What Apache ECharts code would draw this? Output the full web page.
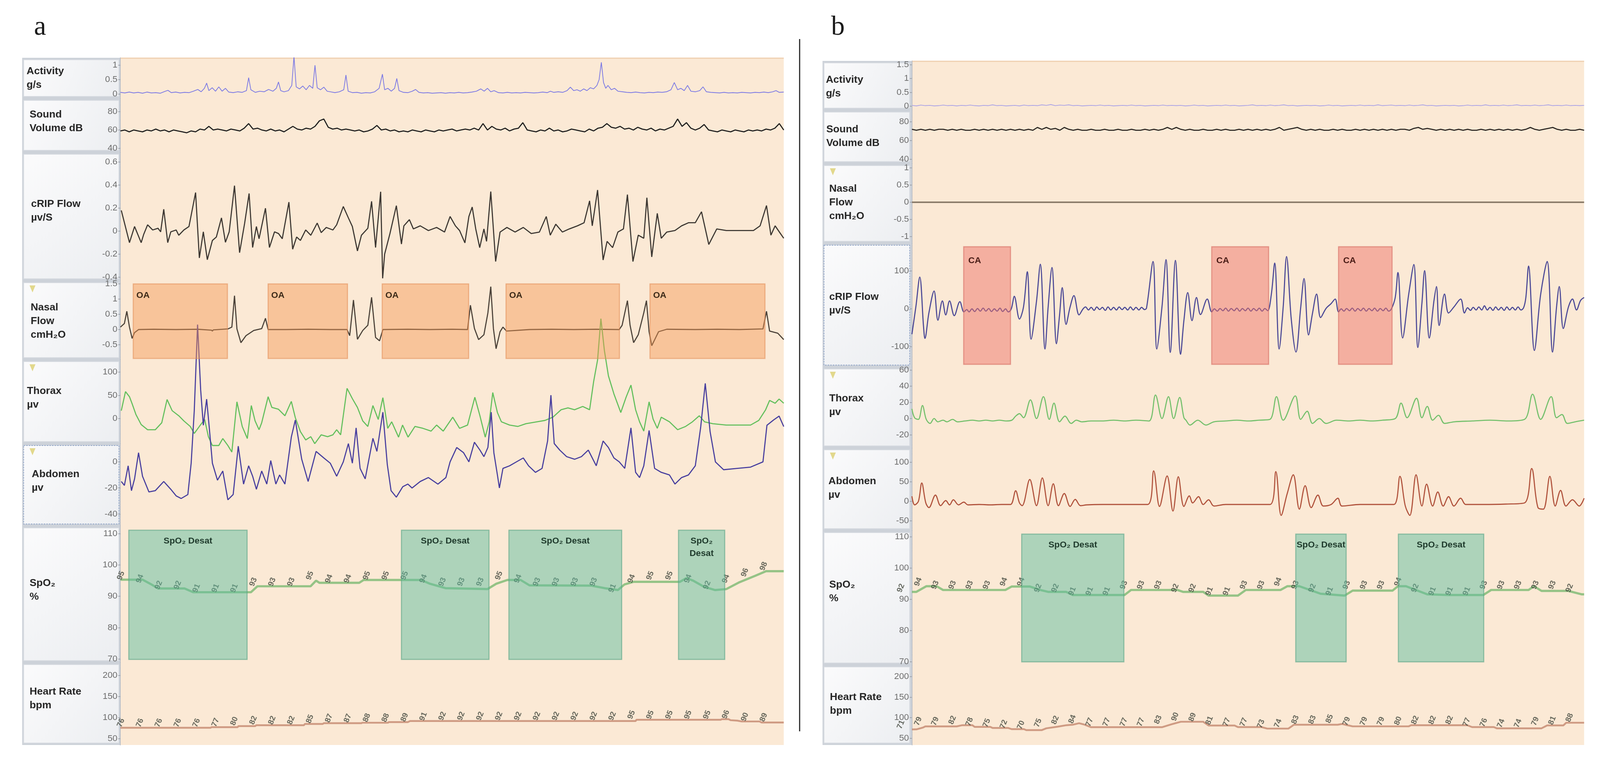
<!DOCTYPE html>
<html>
<head>
<meta charset="utf-8">
<script src="https://cdn.jsdelivr.net/npm/echarts@6/dist/echarts.min.js"></script>
<style>
html, body { margin: 0; padding: 0; background: #ffffff; overflow: hidden; }
#chart { width: 4332px; height: 1949px; }
</style>
</head>
<body>
<div id="chart"></div>
<script>
// ---------- datos (tiempo en s, 0-300) ----------

// panel a
var activityA = [[0,0.06],[2,0.04],[4,0.07],[6,0.04],[8,0.06],[10,0.03],[12,0.07],[14,0.04],[16,0.05],[18,0.03],[20,0.09],[21.5,0.13],[23,0.05],[25,0.07],[27,0.04],[29,0.06],[31,0.05],[33,0.1],[35,0.16],[36.5,0.08],[38,0.2],[39,0.38],[40,0.12],[41.5,0.22],[43,0.1],[44.5,0.25],[46,0.1],[47.5,0.2],[49,0.07],[51,0.05],[53,0.08],[55,0.06],[57,0.12],[58,0.57],[59,0.15],[61,0.06],[63,0.1],[65,0.08],[67,0.16],[69,0.1],[70.5,0.2],[71.5,0.42],[72.5,0.12],[74,0.08],[76,0.12],[77.5,0.3],[78.5,1.3],[79.5,0.25],[81,0.18],[82.5,0.28],[84,0.15],[85.5,0.3],[87,0.2],[88,1.0],[89,0.22],[90.5,0.15],[92,0.24],[93.5,0.1],[95,0.08],[97,0.05],[99,0.08],[101,0.15],[102,0.66],[103,0.1],[105,0.05],[107,0.06],[109,0.03],[111,0.05],[113,0.04],[115,0.08],[117,0.2],[118.5,0.69],[119.5,0.15],[121,0.2],[122.5,0.1],[124,0.2],[125,0.54],[126,0.12],[128,0.06],[130,0.05],[132,0.1],[133.5,0.16],[135,0.06],[137,0.04],[139,0.05],[141,0.03],[143,0.04],[145,0.05],[147,0.03],[149,0.05],[151,0.04],[153,0.06],[155,0.04],[157,0.05],[159,0.07],[161,0.1],[163,0.18],[164.5,0.1],[166,0.2],[167.5,0.08],[169,0.12],[171,0.05],[173,0.04],[175,0.06],[177,0.04],[179,0.05],[181,0.04],[183,0.06],[185,0.05],[187,0.04],[189,0.05],[191,0.07],[193,0.05],[194.5,0.1],[196,0.06],[198,0.08],[200,0.06],[202,0.12],[203.5,0.24],[205,0.12],[206.5,0.15],[208,0.1],[209.5,0.18],[211,0.12],[212.5,0.22],[214,0.18],[215.5,0.3],[216.5,0.5],[217.5,1.1],[218.5,0.4],[219.5,0.2],[220.5,0.3],[222,0.15],[223.5,0.2],[225,0.1],[227,0.08],[229,0.06],[231,0.05],[233,0.07],[235,0.05],[237,0.04],[239,0.06],[241,0.05],[243,0.07],[245,0.06],[247,0.08],[249,0.15],[250.5,0.4],[252,0.15],[253.5,0.2],[255,0.12],[256.5,0.3],[258,0.1],[260,0.08],[262,0.12],[263.5,0.25],[265,0.08],[267,0.06],[269,0.05],[271,0.04],[273,0.06],[275,0.04],[277,0.05],[279,0.04],[281,0.06],[283,0.05],[285,0.04],[287,0.06],[289,0.05],[291,0.07],[293,0.05],[295,0.08],[296.5,0.12],[298,0.06],[300,0.07]];

var sampleStep = 2; // s entre muestras de sonido / actividad b
var soundA = [
  59,60,58,60,59,58,60,59,61,59,
  60,58,60,59,58,57,59,58,61,60,
  64,60,61,60,59,61,60,59,62,67,
  61,62,60,59,61,59,60,58,61,64,
  61,60,62,61,64,70,72,63,61,62,
  60,61,60,59,60,58,59,61,65,60,
  61,59,60,58,59,58,60,59,58,60,
  59,58,60,59,60,61,59,60,61,60,
  62,60,67,60,64,61,60,62,59,61,
  62,68,60,59,58,60,59,62,59,60,
  58,59,61,60,59,58,61,59,62,63,
  67,63,62,64,61,62,60,63,61,60,
  62,59,61,60,62,64,72,64,68,62,
  60,62,66,60,59,58,60,59,58,60,
  59,58,60,59,60,59,61,60,62,67,
  60];

var cripA = [[0.4,0.18],[4.1,-0.1],[6.4,0.04],[9.4,-0.1],[10.5,-0.03],[12.3,0.055],[14.6,0.01],[17,0.025],[18.2,-0.006],[19.6,0.19],[21.4,-0.1],[22.8,-0.006],[25.2,0.01],[26.4,-0.036],[28.7,0.01],[31,0.04],[34,0.335],[35.7,-0.233],[37.5,-0.006],[39.3,-0.248],[41.6,-0.081],[43.4,-0.051],[45.7,0.115],[47.5,-0.097],[49.2,-0.006],[51.6,0.395],[53.9,-0.187],[56.2,0.07],[58.2,0.327],[59.8,-0.142],[61.5,0.04],[62.7,-0.066],[65.6,0.199],[67.4,-0.142],[69.7,-0.006],[71.5,-0.021],[73.2,-0.066],[76.2,0.252],[77.9,-0.157],[79.7,-0.051],[81.4,-0.081],[83.8,0.01],[86.1,-0.036],[89,0.07],[90.8,-0.013],[93.1,0.032],[96.1,0.01],[97.8,0.055],[100.8,0.214],[103.1,0.115],[104.9,0.04],[107.2,-0.172],[109,-0.036],[111.9,0.025],[113.6,0.259],[115.4,-0.142],[117.7,0.342],[118.6,-0.41],[119.5,-0.2],[121.9,-0.021],[124.8,0.221],[127.1,-0.112],[128.2,0.046],[130.7,0.1],[132.5,0.019],[135.6,0.046],[139.3,0.005],[143,0.032],[146.6,-0.008],[149.1,0.127],[151.5,0.046],[153.4,0.005],[155.8,-0.102],[157.6,0.127],[159.1,0.209],[160.7,0.019],[162.5,-0.143],[164.4,0.019],[165.6,-0.089],[167.5,0.344],[169.7,-0.264],[171.7,-0.008],[174.8,0.032],[178.5,-0.008],[182.2,0.032],[185.8,-0.021],[189.5,-0.008],[192.6,0.127],[194.4,-0.035],[196.9,0.06],[199.9,-0.008],[203,0.019],[206.7,0.046],[209.7,0.073],[212.2,0.263],[213.4,0.046],[215.8,0.357],[218.3,-0.251],[220.1,-0.089],[222.6,-0.143],[225,-0.008],[227.5,0.019],[229.3,0.317],[231.8,-0.264],[234.2,-0.035],[236.7,-0.062],[238.1,0.29],[240.3,-0.224],[242.8,0.154],[244.6,-0.062],[247.1,-0.008],[250.8,0.005],[253.8,0.046],[256.9,0.073],[260,0.073],[262.8,0.168],[266.1,-0.116],[269.7,0.019],[274,0.005],[280.2,0.005],[286.3,0.005],[289.3,0.046],[292.2,0.222],[294.2,-0.035],[296.1,0.046],[298.5,-0.021],[300,-0.062]];

var nasalA = [[0,0.08],[1.8,0.2],[2.9,0.6],[4.1,0.08],[5.3,-0.29],[6.4,-0.1],[8.2,0],[15,0.01],[25,0],[35,0.01],[41.2,-0.02],[41.6,-0.05],[42,-0.01],[48.6,0.02],[50.4,0.08],[51.6,1.11],[52.7,0.02],[54.5,-0.43],[56.8,-0.2],[60.3,-0.03],[63.9,0.03],[65.6,0.37],[66.8,0],[75,0],[85,0.01],[95,0],[102.5,0],[103.7,-0.2],[105.4,0.97],[107.2,-0.32],[109.6,-0.03],[111.9,0.14],[113.6,1.06],[115.4,-0.26],[117.2,-0.37],[118.7,0],[130,0.01],[140,0],[150,0.01],[157,0],[158.3,0.8],[160.1,0.04],[162,-0.33],[164.4,-0.17],[166.2,0.55],[167.5,1.41],[168.7,0.03],[169.9,-0.63],[171.7,-0.07],[173,0.08],[174.6,-0.05],[185,0],[195,0.01],[205,0],[215,0.01],[225.6,0],[226.9,0.14],[229.3,0.95],[230.5,0.14],[232.1,-0.43],[234.2,-0.17],[236.7,0.55],[237.9,0.95],[239.1,-0.07],[240.3,-0.53],[243.4,-0.07],[247.1,0.01],[260,0],[270,0.01],[280,0],[290.6,0.02],[292.2,0.6],[293.6,-0.05],[297.3,-0.12],[300,-0.33]];

var thoraxA = [[0.4,17],[2.3,58],[4.1,47],[5.3,32],[7,9],[9.4,-13],[12.3,-24],[15.8,-24],[18.7,-9],[21.1,41],[23.4,17],[26.4,6],[28.7,-5],[31.6,-17],[33.4,-32],[35.7,-17],[38.1,-2],[39.8,-39],[41.6,-58],[44.5,-58],[46.3,-43],[48.6,-58],[50.4,-72],[52.7,36],[55.1,-17],[57.4,-43],[59.2,28],[60.9,-5],[62.7,-24],[63.9,-9],[66.8,47],[68.5,24],[71.5,20],[74.4,6],[77.3,37],[79.1,2],[81.4,-28],[83.8,-46],[86.1,-39],[87.9,-54],[90.8,-35],[93.7,-39],[96.1,-35],[97.8,-24],[99.6,-35],[102.5,65],[104.9,43],[107.2,24],[109.6,-5],[111.9,-17],[114.2,28],[116.6,-2],[118.7,45],[120.9,-21],[122.7,-7],[125.8,-40],[127.6,-14],[130.1,-40],[133.2,-17],[136.8,-21],[140.5,-27],[143,-14],[146,-27],[150.3,3],[153.4,-21],[157,-14],[160.3,46],[162.6,6],[165,-40],[166.8,-7],[168.4,56],[170.5,13],[172.3,-7],[176,-14],[179.7,-17],[183.4,-11],[188.3,-7],[192,-4],[195.6,3],[199.3,19],[202.4,23],[205.4,19],[209.1,26],[212.2,19],[214,79],[215.8,126],[217.3,215],[218.9,146],[220.7,92],[223.2,53],[226.3,13],[228.7,46],[230.9,72],[233,19],[234.8,-7],[236.7,-27],[239.1,36],[240.9,-1],[242.8,-21],[244.6,3],[248.3,-7],[252,-24],[255.6,-17],[258.7,-7],[261.8,6],[264.2,-7],[267.9,-11],[274,-14],[280.2,-14],[285,-14],[288.7,-4],[291.8,19],[293.6,39],[296.1,33],[297.9,42],[300,33]];

var abdomenA = [[0.4,-15],[1.8,-18],[3.5,-3],[5,-22],[6.4,-13],[8.2,7],[10,-11],[12.9,-23],[15.8,-22],[19.6,-15],[22.8,-21],[25.2,-26],[27.5,-28],[30.5,-25],[32,-1],[33.4,39],[34.9,105],[36.3,55],[37.5,28],[39,48],[40.2,26],[41.6,-1],[43.9,-14],[46.3,-7],[48.6,-29],[51,-25],[53.3,12],[55.7,-17],[58,-3],[59.8,-11],[61.5,-21],[63.9,-7],[66.2,-17],[68,1],[70.3,-17],[72,-10],[74.4,-17],[77.3,19],[79.1,32],[82,2],[84.9,-15],[88.5,8],[92,3],[94.9,-1],[97.8,-11],[100.8,0],[103.1,14],[104.9,-1],[106.6,26],[108.4,-5],[110.7,-13],[114.2,18],[116,8],[118.7,38],[120.7,-2],[122.4,-22],[124.8,-27],[127.7,-19],[130,-17],[131.9,-20],[135.6,-15],[139.3,-12],[143.6,-17],[147.2,-12],[149.1,0],[152.1,11],[155.2,7],[157.6,0],[160.1,15],[162.6,9],[164.4,4],[166.2,11],[167.7,38],[168.9,7],[170.5,-10],[171.4,-20],[173,-5],[176,-3],[179.1,0],[182.2,3],[184.6,-3],[187.7,-8],[190.7,-5],[193.2,16],[194.7,51],[196.2,14],[198.7,9],[201.8,4],[205.4,2],[208.5,4],[211.6,9],[215.2,-3],[218.3,16],[220.7,11],[223.2,3],[225.6,0],[228.1,-5],[230.9,26],[233,-8],[234.8,-12],[236.7,-3],[239.1,24],[241.6,-5],[244.6,-8],[248.3,-10],[250.8,-17],[253.8,-12],[256.9,-10],[260,-3],[262.4,26],[264.5,60],[266.7,23],[269.1,0],[272.8,-6],[278.9,-5],[285,-4],[290.6,0],[292.4,28],[295.4,32],[297.9,35],[300,27]];

var spo2A = [[0,95.3],[10,95.3],[14,93.8],[17,92.5],[29,92.5],[33,91.3],[59,91.3],[62,93.2],[86,93.2],[88.5,95],[90,94.3],[108,94.3],[110,95.2],[136,95.2],[140,94],[147,92.6],[166,92.3],[170,94],[175,95.2],[181,95.2],[185,93.5],[213,93.4],[219,92.6],[225,92],[228,93.8],[232,94.6],[253,94.6],[256,95.8],[259,95],[264,93],[269,92],[274,92.3],[280,94.5],[287,96.5],[292,98],[300,98]];
var hrA = [[0,76],[40.8,76],[41.2,77.5],[53,77.5],[53.4,80],[61,80],[61.4,82],[83,82],[83.4,85],[91.5,85],[92,87],[109,87],[109.4,88],[121,88],[121.4,89.5],[130,89.5],[131,92],[233,92],[233.4,95],[271.5,95],[272,96.5],[275,96.5],[276,94],[279,93],[281,91],[289,91],[290,88.5],[300,88.5]];

var labelTimesA = [5.8,14.4,22.9,31.5,40.0,48.6,57.1,65.7,74.2,82.8,91.3,99.9,108.4,117.0,125.5,134.1,142.6,151.2,159.7,168.3,176.8,185.4,193.9,202.5,211.0,219.6,228.1,236.7,245.2,253.8,262.3,270.9,279.4,288.0,296.5];
var spo2LabelsA = [95,94,92,92,91,91,91,93,93,93,95,94,94,95,95,95,94,93,93,93,95,94,93,93,93,93,91,94,95,95,94,92,94,96,98];
var hrLabelsA = [76,76,76,76,76,77,80,82,82,82,85,87,87,88,88,89,91,92,92,92,92,92,92,92,92,92,92,95,95,95,95,95,96,90,89];

var oaEventsA = [[5.8,48.4],[66.8,102.7],[118.4,157.5],[174.4,225.7],[239.5,291.5]];
var desatEventsA = [[3.8,57.3],[127.1,166.7],[175.7,226.7],[252.4,273.3]];

// panel b
var activityB = [
  .03,.01,.04,.02,.03,.01,.02,.04,.02,.03,
  .01,.03,.02,.04,.02,.01,.03,.02,.05,.02,
  .03,.01,.02,.03,.01,.04,.02,.03,.02,.05,
  .03,.06,.02,.04,.03,.05,.02,.03,.01,.02,
  .03,.02,.04,.02,.03,.01,.02,.03,.02,.04,
  .02,.03,.01,.02,.03,.02,.04,.02,.03,.02,
  .03,.01,.02,.04,.02,.03,.01,.02,.03,.02,
  .04,.02,.03,.01,.02,.03,.05,.02,.03,.02,
  .04,.02,.03,.05,.02,.03,.01,.02,.03,.02,
  .03,.01,.02,.04,.02,.03,.01,.02,.03,.02,
  .04,.02,.03,.02,.05,.02,.03,.04,.02,.03,
  .02,.04,.02,.03,.05,.02,.03,.01,.02,.03,
  .02,.03,.01,.02,.04,.02,.03,.02,.05,.02,
  .03,.02,.04,.02,.03,.05,.02,.03,.02,.04,
  .02,.03,.05,.02,.03,.02,.04,.02,.03,.02,
  .03];
var soundB = [
  72,71,72,71,72,71,72,72,71,72,
  71,72,71,71,72,71,72,71,72,71,
  72,71,72,71,72,71,72,71,74,72,
  74,72,73,71,74,72,71,72,71,71,
  72,71,71,72,71,71,72,71,71,72,
  71,71,72,71,72,71,72,74,72,74,
  72,71,72,71,71,72,71,71,72,71,
  72,71,71,72,71,72,71,72,71,72,
  71,72,74,71,72,73,74,72,71,72,
  71,72,71,71,72,71,72,71,71,72,
  71,72,71,72,71,72,71,72,71,72,
  72,71,73,74,72,73,72,71,72,71,
  72,71,72,71,72,71,71,72,71,72,
  71,72,71,72,71,72,71,72,74,72,
  71,72,73,74,72,71,72,71,71,72,
  71];
var nasalB = [[0,0],[300,0]];

var cripB = [[0,-67],[1.8,7],[3.5,84],[5.2,-48],[5.8,-78],[7.6,-10],[9.9,47],[11.6,-30],[13.6,21],[15.1,-16],[16.8,21],[18.9,-18],[21.4,19],[23.2,-8],[24.5,-2],[25.5,-8],[26.8,0],[28,-7],[29.3,1],[30.5,-6],[31.8,2],[33,-6],[34.3,1],[35.5,-7],[36.8,0],[38,-6],[39.3,2],[40.5,-7],[41.8,0],[43,-8],[44,-4],[44.6,5],[45.7,33],[48,-27],[49.8,5],[51.5,98],[53.2,-80],[55.6,20],[57.3,118],[59.4,-106],[60.8,5],[62.5,109],[64.5,-92],[65.9,-16],[67.1,56],[68.8,-41],[70.6,5],[72.3,35],[74.6,-16],[76.4,0],[77.5,5],[78.8,-3],[80,4],[81.3,-4],[82.5,5],[83.8,-2],[85,4],[86.3,-4],[87.5,5],[88.8,-3],[90,4],[91.3,-3],[92.5,5],[93.8,-2],[95,4],[96.3,-3],[97.5,5],[98.8,-3],[100,4],[101.3,-3],[102.5,4],[103.8,-2],[104.7,2],[107.6,125],[109.3,-106],[111.6,5],[113.4,130],[115.3,-115],[117.6,128],[119.9,-120],[121.4,-30],[123.1,43],[125,-31],[127,30],[128.8,-15],[131.8,26],[133.8,-8],[135,0],[136.3,-6],[137.5,1],[138.8,-5],[140,2],[141.3,-6],[142.5,1],[143.8,-5],[145,2],[146.3,-6],[147.5,1],[148.8,-5],[150,2],[151.3,-6],[152.5,1],[153.8,-5],[155,2],[156.3,-6],[157.5,1],[158.8,-5],[160.4,38],[161.9,121],[163.9,-106],[165.7,5],[167.2,138],[169.3,-27],[171.4,-114],[173.5,3],[175,80],[177,-69],[178.8,-11],[180.6,39],[182.4,-23],[184.8,1],[187.1,14],[188.9,26],[190.4,-8],[191.6,0],[192.8,-6],[194,1],[195.3,-5],[196.5,2],[197.8,-6],[199,1],[200.3,-5],[201.5,2],[202.8,-6],[204,1],[205.3,-5],[206.5,2],[207.8,-6],[209,1],[210.3,-5],[211.5,2],[212.8,-6],[214,0],[215.7,30],[216.9,96],[219,-77],[221.7,38],[224,117],[225.8,-102],[227.6,14],[228.8,101],[230.9,-77],[233,22],[234.1,59],[235.3,-44],[237.7,39],[239.5,-11],[241.9,5],[244.9,26],[246.6,-11],[248,3],[249.3,-4],[250.5,4],[251.8,-3],[253,5],[254.3,-3],[255.5,8],[256.8,-3],[258,4],[259.3,-4],[260.5,5],[261.8,-3],[263,4],[264.3,-4],[265.5,5],[266.8,-3],[268,4],[269.3,-3],[270.5,5],[271.8,-3],[273,3],[274,30],[275.2,113],[277.8,-110],[280.6,38],[283.5,125],[285.9,-114],[287.7,5],[288.9,59],[290.7,-52],[293,5],[294.8,26],[296.6,-3],[298.4,22],[300,30]];

var thoraxB = [[0,12],[1.2,1],[2.9,-1],[4.7,16],[6.4,-1],[8.1,-6],[9.9,0],[11.6,-4],[13.9,-2],[15.6,-4],[18.2,-1],[20.3,-4],[23.7,-3],[27,-2],[30,-3],[33,-2],[36,-3],[39,-2],[42,-3],[44.6,-2],[46.3,3],[48,6],[49.8,1],[52.9,23],[55.6,0],[58.7,27],[61.3,-1],[63.4,19],[65.9,-4],[68.3,3],[71.1,-6],[73.4,-2],[75.8,-4],[80,-3],[85,-3],[90,-2],[95,-3],[100,-2],[105.8,-3],[108.7,29],[111.6,0],[114.5,27],[116.8,0],[119.5,26],[121.4,1],[122.3,-2],[124.1,-8],[127.6,-2],[131.2,-8],[134.8,-4],[140,-3],[145,-2],[150,-3],[155,-2],[159.8,-1],[162.7,27],[165.7,-2],[171.1,28],[173.5,-1],[176.4,9],[178.8,-6],[181.8,0],[184.8,-6],[189.5,-2],[195,-3],[200,-2],[205,-3],[210,-2],[215.7,0],[218.3,19],[221,1],[225.2,25],[227.6,1],[230,15],[232.4,-2],[235,4],[237.7,-6],[242,-4],[250,-3],[258,-2],[266,-3],[273.4,-1],[277,30],[280.6,-1],[285.3,27],[287.7,1],[290.1,5],[292.5,-6],[296,-4],[300,-2]];

var abdomenB = [[0,13],[1.2,-9],[2.9,0],[4.4,47],[6.2,-4],[7.6,-16],[10.5,16],[12.8,-11],[15.1,2],[16.8,-9],[18.5,4],[20.8,-9],[23.2,-2],[25,-9],[30,-8],[35,-9],[40,-8],[44,-8],[46.3,27],[48,-4],[49.2,-11],[52.6,56],[55.6,-11],[58.2,60],[60.8,-11],[63.1,45],[65.4,-11],[68,20],[70.6,-13],[72.9,5],[75.2,-11],[78.1,-9],[85,-8],[95,-8],[105.2,-8],[107.9,78],[110.5,-13],[113.9,65],[116.5,-25],[118.9,63],[121.4,-13],[123.8,14],[125.3,-4],[127.9,12],[130,-8],[132.4,4],[134.8,-12],[140,-8],[150,-8],[159.8,-8],[162.4,76],[164.8,-36],[167.5,20],[170.2,68],[172.9,-20],[175.5,40],[178.2,-16],[181.2,16],[183.6,-12],[187.1,-8],[190.1,8],[191.9,-12],[200,-8],[208,-8],[215.1,-8],[217.8,64],[220.2,-12],[222.2,-36],[225,68],[227.6,-12],[229.7,44],[232.4,-12],[234.7,24],[237.1,-12],[239.5,12],[241.9,-12],[244.9,8],[247.2,-8],[255,-8],[265,-7],[273.4,-4],[276.6,84],[279.4,-16],[281.8,-20],[284.7,64],[287.1,-12],[289.5,28],[291.9,-12],[294.8,4],[297.8,-12],[300,8]];

var spo2B = [[0,92.4],[2,92.4],[6.4,94.2],[11,94.2],[13.9,93],[41.7,93],[44.5,94.1],[52.7,94.1],[57.3,93],[60.8,92.4],[68.8,92.4],[71.7,91.4],[94.9,91.4],[97.8,93],[118.5,93],[121,92.4],[130,92.4],[132.4,91.2],[145.5,91.2],[149,93],[164.5,93],[167.5,94.2],[172.9,94.2],[182.4,91.8],[193.1,91.2],[196.7,92.8],[214.5,92.8],[216.9,94.2],[220.5,94.2],[230,91.6],[239.5,91.4],[255,91.4],[258.5,93],[275.2,93],[277.6,94.2],[281,92.7],[293,92.7],[299,91.6],[300,91.6]];
var hrB = [[0,71.3],[2,71.5],[5,76],[6,78.7],[20,78.7],[22.5,81.6],[27,81.6],[28,77.5],[35,77.5],[36,74.8],[43,74.8],[44.5,72],[50,72],[51,69.7],[58,69.7],[60,74],[65,78],[69,81.6],[72,83],[74.6,86.5],[77,83],[80,76.7],[111.6,76.7],[116,84],[120,90],[130,90],[132.4,80.9],[144,80.9],[145.5,77],[156,77],[158.6,73.3],[168,73.3],[170.5,82.7],[190,82.7],[192,84.6],[194,82],[196.7,78.8],[221.7,78.8],[222.8,81.5],[247.8,81.5],[250,77],[259.7,77],[261,74],[281,74],[283.5,81],[290.7,81],[292,87.6],[300,87.6]];

var labelTimesB = [0.6,8.3,15.9,23.6,31.2,38.9,46.5,54.2,61.8,69.5,77.1,84.8,92.4,100.1,107.7,115.4,123.0,130.7,138.3,146.0,153.6,161.3,168.9,176.6,184.2,191.9,199.5,207.2,214.8,222.5,230.1,237.8,245.4,253.1,260.7,268.4,276.0,283.7,291.3,299.0];
var spo2LabelsB = [92,94,93,93,93,93,94,94,92,92,91,91,91,93,93,93,92,92,91,91,93,93,94,93,92,91,93,93,93,94,92,91,91,91,93,93,93,93,93,92];
var hrLabelsB = [71,79,79,82,78,75,72,70,75,82,84,77,77,77,77,83,90,89,81,77,77,73,74,83,83,85,79,79,79,80,82,82,82,77,76,74,74,79,81,88];

var caEventsB = [[23.1,44.0],[133.8,159.2],[190.4,214.3]];
var desatEventsB = [[49.0,94.6],[171.3,193.8],[217.1,255.2]];

// marcas de los ejes
var activityTicksA = [0, 0.5, 1];
var soundTicksA = [40, 60, 80];
var cripTicksA = [-0.4, -0.2, 0, 0.2, 0.4, 0.6];
var nasalTicksA = [-0.5, 0, 0.5, 1, 1.5];
var thoraxTicksA = [0, 50, 100];
var abdomenTicksA = [-40, -20, 0];
var spo2Ticks = [70, 80, 90, 100, 110];
var hrTicks = [50, 100, 150, 200];
var activityTicksB = [0, 0.5, 1, 1.5];
var soundTicksB = [40, 60, 80];
var nasalTicksB = [-1, -0.5, 0, 0.5, 1];
var cripTicksB = [-100, 0, 100];
var thoraxTicksB = [-20, 0, 20, 40, 60];
var abdomenTicksB = [-50, 0, 50, 100];

// ---------- maquetación (diseñada sobre 4332 x 1949, se ajusta a la ventana) ----------
var BASE_W = 4332, BASE_H = 1949;
var W = window.innerWidth || BASE_W, H = window.innerHeight || BASE_H;
var sx = W / BASE_W, sy = H / BASE_H, sf = Math.min(sx, sy);
function X(v) { return v * sx; }
function Y(v) { return v * sy; }
function F(v) { return Math.round(v * sf * 10) / 10; }

var FONT = '"Liberation Sans", Arial, sans-serif';

var panelA = { colLeft: 60, colRight: 322, plotLeft: 326, plotRight: 2122, top: 148, letter: 'a', lx: 92, ly: 106 };
var panelB = { colLeft: 2227, colRight: 2463, plotLeft: 2469, plotRight: 4289, top: 156, letter: 'b', lx: 2250, ly: 106 };

function pairs(values, step) {
    return values.map(function (v, i) { return [i * step, v]; });
}

var rowsA = [
    { label: 'Activity\ng/s', top: 148, bottom: 252, min: -0.149, max: 1.257, ticks: activityTicksA, tx: 72, ty: 200 },
    { label: 'Sound\nVolume dB', top: 252, bottom: 390, min: 35.7, max: 94.5, ticks: soundTicksA, tx: 80, ty: 311 },
    { label: 'cRIP Flow\nµv/S', top: 390, bottom: 719, min: -0.431, max: 0.685, ticks: cripTicksA, tx: 84, ty: 540 },
    { label: 'Nasal\nFlow\ncmH₂O', top: 719, bottom: 921, min: -0.987, max: 1.603, ticks: nasalTicksA, tx: 83, ty: 823, filt: true },
    { label: 'Thorax\nµv', top: 921, bottom: 1136, min: -53.8, max: 126.9, ticks: thoraxTicksA, tx: 73, ty: 1019, filt: true },
    { label: 'Abdomen\nµv', top: 1136, bottom: 1347, min: -49, max: 14, ticks: abdomenTicksA, tx: 86, ty: 1232, filt: true, sel: true },
    { label: 'SpO₂\n%', top: 1347, bottom: 1697, min: 68.9, max: 112.4, ticks: spo2Ticks, tx: 80, ty: 1511 },
    { label: 'Heart Rate\nbpm', top: 1697, bottom: 1908, min: 35.2, max: 230.6, ticks: hrTicks, tx: 80, ty: 1789 }
];
var rowsB = [
    { label: 'Activity\ng/s', top: 156, bottom: 282, min: -0.141, max: 1.634, ticks: activityTicksB, tx: 2236, ty: 222 },
    { label: 'Sound\nVolume dB', top: 282, bottom: 419, min: 35.4, max: 92.5, ticks: soundTicksB, tx: 2237, ty: 349 },
    { label: 'Nasal\nFlow\ncmH₂O', top: 419, bottom: 623, min: -1.193, max: 1.125, ticks: nasalTicksB, tx: 2245, ty: 519, filt: true },
    { label: 'cRIP Flow\nµv/S', top: 623, bottom: 940, min: -153.6, max: 173.2, ticks: cripTicksB, tx: 2245, ty: 778, sel: true },
    { label: 'Thorax\nµv', top: 940, bottom: 1147, min: -36.1, max: 63.5, ticks: thoraxTicksB, tx: 2245, ty: 1038, filt: true },
    { label: 'Abdomen\nµv', top: 1147, bottom: 1359, min: -75, max: 137, ticks: abdomenTicksB, tx: 2243, ty: 1250, filt: true },
    { label: 'SpO₂\n%', top: 1359, bottom: 1703, min: 69, max: 112, ticks: spo2Ticks, tx: 2245, ty: 1515 },
    { label: 'Heart Rate\nbpm', top: 1703, bottom: 1908, min: 33.3, max: 228.6, ticks: hrTicks, tx: 2247, ty: 1803 }
];

var oaStyle = { color: 'rgba(244,150,82,0.45)', border: 'rgba(225,140,85,0.55)', text: '#3d2a18' };
var caStyle = { color: 'rgba(237,117,107,0.5)', border: 'rgba(215,110,100,0.6)', text: '#4a1c16' };
var desatStyle = { color: 'rgba(95,190,160,0.5)', border: 'rgba(90,165,135,0.6)', text: '#1f3a2c' };

function eventArea(events, yTop, yBottom, style, nameFn, pos, off) {
    return {
        silent: true,
        z: 5,
        itemStyle: { color: style.color, borderColor: style.border, borderWidth: F(3) },
        label: {
            show: true, position: pos, distance: F(14), offset: off,
            color: style.text, fontFamily: FONT, fontWeight: 'bold', fontSize: F(24), lineHeight: F(34)
        },
        data: events.map(function (e) {
            return [{ xAxis: e[0], yAxis: yTop, name: nameFn(e) }, { xAxis: e[1], yAxis: yBottom }];
        })
    };
}
function desatName(e) { return (e[1] - e[0] < 21) ? 'SpO₂\nDesat' : 'SpO₂ Desat'; }
function oaName() { return 'OA'; }
function caName() { return 'CA'; }

var spo2Color = 'rgba(105,178,100,0.7)';
var hrColor = 'rgba(190,125,100,0.72)';

var channelsA = [
    { data: activityA, color: '#7a78e4', width: 2 },
    { data: pairs(soundA, sampleStep), color: '#1e1e1e', width: 3 },
    { data: cripA, color: '#3b3631', width: 3 },
    { data: nasalA, color: '#4a4138', width: 3, area: eventArea(oaEventsA, 1.5, -0.95, oaStyle, oaName, 'insideTopLeft', [F(-4), F(2)]) },
    { data: thoraxA, color: '#62bf5c', width: 3, clip: false },
    { data: abdomenA, color: '#463d9e', width: 3, clip: false },
    { data: spo2A, color: spo2Color, width: 6, area: eventArea(desatEventsA, 111.05, 69.9, desatStyle, desatName, 'insideTop', [0, 0]), labels: [labelTimesA, spo2LabelsA] },
    { data: hrA, color: hrColor, width: 5, labels: [labelTimesA, hrLabelsA] }
];
var channelsB = [
    { data: pairs(activityB, sampleStep), color: '#aaa2e6', width: 2 },
    { data: pairs(soundB, sampleStep), color: '#2a2622', width: 3 },
    { data: nasalB, color: '#8b7d6b', width: 4 },
    { data: cripB, color: '#4a4896', width: 3, smooth: 0.35, area: eventArea(caEventsB, 163.9, -146.4, caStyle, caName, 'insideTopLeft', [0, F(8)]) },
    { data: thoraxB, color: '#74c06c', width: 3, smooth: 0.35 },
    { data: abdomenB, color: '#b0523c', width: 3, smooth: 0.35 },
    { data: spo2B, color: spo2Color, width: 6, area: eventArea(desatEventsB, 110.9, 70, desatStyle, desatName, 'insideTop', [0, 0]), labels: [labelTimesB, spo2LabelsB] },
    { data: hrB, color: hrColor, width: 5, labels: [labelTimesB, hrLabelsB] }
];

var grids = [], xAxes = [], yAxes = [], series = [], graphics = [];

function buildPanel(panel, rows, channels) {
    var lastBottom = rows[rows.length - 1].bottom;
    // fondo del trazado
    graphics.push({ type: 'rect', z: -5, shape: { x: X(panel.plotLeft), y: Y(panel.top), width: X(panel.plotRight - panel.plotLeft), height: Y(lastBottom - panel.top) }, style: { fill: '#fbe9d5' } });
    graphics.push({ type: 'line', z: -4, shape: { x1: X(panel.plotLeft), y1: Y(panel.top + 1), x2: X(panel.plotRight), y2: Y(panel.top + 1) }, style: { stroke: '#efcfb0', lineWidth: F(3) } });
    // columna de nombres
    graphics.push({ type: 'rect', z: -5, shape: { x: X(panel.colLeft), y: Y(panel.top), width: X(panel.plotLeft - panel.colLeft), height: Y(lastBottom - panel.top) }, style: { fill: '#cdd2d9' } });
    graphics.push({ type: 'text', x: X(panel.lx), y: Y(panel.ly), style: { text: panel.letter, font: F(74) + 'px "Liberation Serif", "Times New Roman", serif', fill: '#1a1a1a', verticalAlign: 'bottom' } });

    rows.forEach(function (r, i) {
        var gi = grids.length;
        grids.push({ left: X(panel.plotLeft), top: Y(r.top), width: X(panel.plotRight - panel.plotLeft), height: Y(r.bottom - r.top) });
        xAxes.push({ gridIndex: gi, type: 'value', min: 0, max: 300, show: false });
        yAxes.push({
            gridIndex: gi, type: 'value', min: r.min, max: r.max,
            axisLine: { show: true, lineStyle: { color: '#b3b9c3', width: F(2), type: 'dotted' } },
            axisTick: { show: true, customValues: r.ticks, length: F(6), lineStyle: { color: '#a0a4ab', width: F(2) } },
            axisLabel: { show: true, customValues: r.ticks, fontSize: F(24), color: '#6d6d6d', fontFamily: FONT, margin: F(8) },
            splitLine: { show: false }
        });

        graphics.push({
            type: 'rect', z: -4,
            shape: { x: X(panel.colLeft + 4), y: Y(r.top + 5), width: X(panel.colRight - panel.colLeft - 4), height: Y(r.bottom - r.top - 10) },
            style: {
                fill: { type: 'linear', x: 0, y: 0, x2: 1, y2: 1, colorStops: [{ offset: 0, color: '#fbfbfc' }, { offset: 1, color: '#eceef1' }] },
                stroke: r.sel ? '#8fa4c8' : '#d6dae0', lineWidth: F(2), lineDash: r.sel ? [F(4), F(3)] : null
            }
        });
        graphics.push({ type: 'text', x: X(r.tx), y: Y(r.ty), style: { text: r.label, font: 'bold ' + F(28) + 'px ' + FONT, fill: '#262626', lineHeight: F(37), verticalAlign: 'middle' } });
        if (r.filt) {
            var fx = panel.colLeft + 20, fy = r.top + 12;
            graphics.push({ type: 'polygon', shape: { points: [[X(fx), Y(fy)], [X(fx + 16), Y(fy)], [X(fx + 8), Y(fy + 18)]] }, style: { fill: '#e2d88c' } });
        }

        var ch = channels[i];
        var s = {
            type: 'line', xAxisIndex: gi, yAxisIndex: gi, data: ch.data,
            showSymbol: false, symbol: 'none', silent: true,
            smooth: ch.smooth || false,
            clip: ch.clip === false ? false : true,
            lineStyle: { color: ch.color, width: F(ch.width) },
            z: 3
        };
        if (ch.area) s.markArea = ch.area;
        series.push(s);

        if (ch.labels) {
            series.push({
                type: 'scatter', xAxisIndex: gi, yAxisIndex: gi, silent: true,
                symbolSize: 1, itemStyle: { color: 'rgba(0,0,0,0)' }, z: 4,
                data: ch.labels[0].map(function (t, k) { return [t, ch.labels[1][k]]; }),
                label: {
                    show: true, position: 'inside', offset: [0, F(-36)], rotate: 68,
                    fontSize: F(21), fontWeight: 'bold', fontFamily: FONT, color: '#43483f',
                    formatter: function (p) { return String(p.value[1]); }
                }
            });
        }
    });
}

buildPanel(panelA, rowsA, channelsA);
buildPanel(panelB, rowsB, channelsB);

// separador vertical entre paneles
graphics.push({ type: 'line', shape: { x1: X(2165), y1: Y(100), x2: X(2165), y2: Y(1873) }, style: { stroke: '#1f1f1f', lineWidth: F(3) } });

var el = document.getElementById('chart');
el.style.width = W + 'px';
el.style.height = H + 'px';
var chart = echarts.init(el, null, { renderer: 'canvas' });
chart.setOption({
    animation: false,
    backgroundColor: '#ffffff',
    grid: grids,
    xAxis: xAxes,
    yAxis: yAxes,
    graphic: { elements: graphics },
    series: series
});
</script>
</body>
</html>
